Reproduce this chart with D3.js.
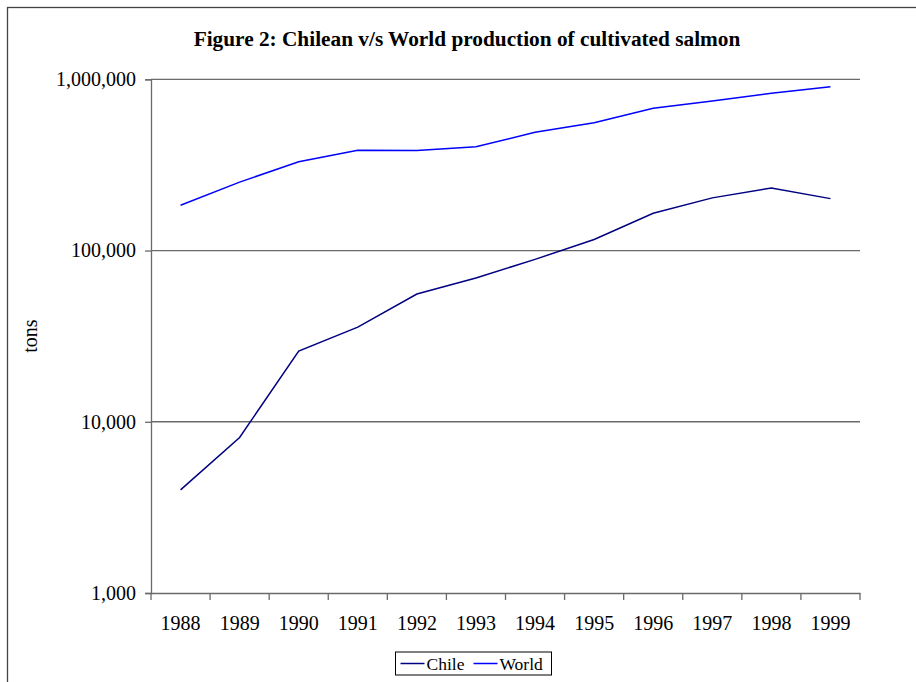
<!DOCTYPE html>
<html>
<head>
<meta charset="utf-8">
<script src="https://cdn.jsdelivr.net/npm/d3@7"></script>
<style>
  body { margin: 0; background: #fff; }
  svg { display: block; font-family: "Liberation Serif", "Times New Roman", serif; }
</style>
</head>
<body>
<div id="chart"></div>
<script>
// years on the category axis
const years = ["1988", "1989", "1990", "1991", "1992", "1993", "1994", "1995", "1996", "1997", "1998", "1999"];
// production in tons
const chile = [4000, 8100, 25900, 35700, 55700, 69100, 88800, 116000, 165000, 203000, 232000, 201000];
const world = [184000, 251000, 330000, 385000, 384000, 404000, 490000, 557000, 677000, 747000, 828000, 906000];
const yTicks = [1000, 10000, 100000, 1000000];

const viewportWidth = 916;
const viewportHeight = 682;
const margin = { top: 79.3, right: 56, bottom: 89, left: 151 };
const width = viewportWidth - margin.left - margin.right;
const height = viewportHeight - margin.top - margin.bottom;
const serif = '"Liberation Serif", "Times New Roman", serif';

const svg = d3.select("#chart")
  .append("svg")
  .attr("width", viewportWidth)
  .attr("height", viewportHeight)
  .attr("font-family", serif);

// outer chart border, runs off the right and bottom edges
svg.append("rect")
  .attr("x", 7.5).attr("y", 7.5)
  .attr("width", 1000).attr("height", 1000)
  .attr("fill", "none")
  .attr("stroke", "#444")
  .attr("stroke-width", 1.3);

svg.append("text")
  .attr("x", 467)
  .attr("y", 46)
  .attr("text-anchor", "middle")
  .attr("font-weight", "bold")
  .attr("font-size", 21.3)
  .text("Figure 2: Chilean v/s World production of cultivated salmon");

const g = svg.append("g")
  .attr("transform", `translate(${margin.left},${margin.top})`);

const x = d3.scaleBand()
  .domain(years)
  .range([0, width]);

const y = d3.scaleLog()
  .domain([1000, 1000000])
  .range([height, 0]);

// horizontal gridlines
g.append("g")
  .selectAll("line")
  .data(yTicks.slice(1))
  .enter()
  .append("line")
  .attr("x1", 0)
  .attr("x2", width)
  .attr("y1", d => y(d))
  .attr("y2", d => y(d))
  .attr("stroke", "#6a6a6a")
  .attr("stroke-width", 1.3);

// y axis
const yAxis = g.append("g")
  .call(d3.axisLeft(y)
    .tickValues(yTicks)
    .tickFormat(d3.format(","))
    .tickSize(6)
    .tickPadding(9));
yAxis.attr("font-family", serif).attr("font-size", 20);
yAxis.selectAll("text").attr("fill", "#000");

// x axis labels at band centres
const xAxis = g.append("g")
  .attr("transform", `translate(0,${height})`)
  .call(d3.axisBottom(x).tickSize(0).tickPadding(23));
xAxis.attr("font-family", serif).attr("font-size", 20);
xAxis.selectAll("text").attr("fill", "#000");

// tick marks on the band boundaries
g.append("g")
  .attr("transform", `translate(0,${height})`)
  .selectAll("line")
  .data(years.concat(["end"]))
  .enter()
  .append("line")
  .attr("x1", (d, i) => i * x.step())
  .attr("x2", (d, i) => i * x.step())
  .attr("y1", 0)
  .attr("y2", 7)
  .attr("stroke", "#6a6a6a")
  .attr("stroke-width", 1.3);

svg.selectAll(".domain").attr("stroke", "#6a6a6a").attr("stroke-width", 1.3);
svg.selectAll(".tick line").attr("stroke", "#6a6a6a").attr("stroke-width", 1.3);

// y axis title
svg.append("text")
  .attr("transform", `translate(37,${margin.top + height / 2}) rotate(-90)`)
  .attr("text-anchor", "middle")
  .attr("font-size", 20)
  .text("tons");

const line = d3.line()
  .x((d, i) => x(years[i]) + x.bandwidth() / 2)
  .y(d => y(d));

g.append("path")
  .datum(world)
  .attr("fill", "none")
  .attr("stroke", "#0000ff")
  .attr("stroke-width", 1.5)
  .attr("d", line);

g.append("path")
  .datum(chile)
  .attr("fill", "none")
  .attr("stroke", "#000080")
  .attr("stroke-width", 1.5)
  .attr("d", line);

// legend
const legend = svg.append("g")
  .attr("transform", "translate(395.5,652)")
  .attr("font-family", serif);
legend.append("rect")
  .attr("width", 156)
  .attr("height", 23)
  .attr("fill", "#fff")
  .attr("stroke", "#000")
  .attr("stroke-width", 1);

const legendItems = [
  { name: "Chile", color: "#000080", x: 5 },
  { name: "World", color: "#0000ff", x: 78 }
];
const item = legend.selectAll(".item")
  .data(legendItems)
  .enter()
  .append("g")
  .attr("transform", d => `translate(${d.x},0)`);
item.append("line")
  .attr("x1", 0).attr("x2", 24)
  .attr("y1", 11.5).attr("y2", 11.5)
  .attr("stroke", d => d.color)
  .attr("stroke-width", 1.5);
item.append("text")
  .attr("x", 26)
  .attr("y", 17.5)
  .attr("font-size", 17.5)
  .attr("font-family", serif)
  .text(d => d.name);
</script>
</body>
</html>
